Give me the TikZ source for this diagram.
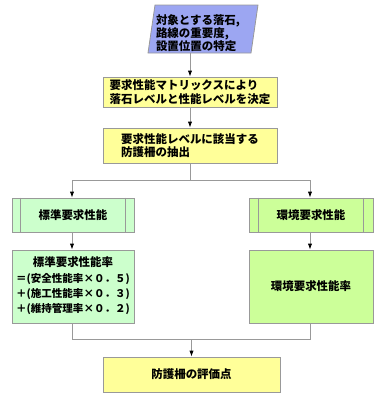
\documentclass[tikz,border=0pt]{standalone}
\usepackage{fontspec}
\setmainfont{Noto Sans CJK JP}
\usetikzlibrary{arrows.meta}
\definecolor{paraBlue}{HTML}{9CA6F2}
\definecolor{boxYellow}{HTML}{FFFF99}
\definecolor{boxMint}{HTML}{CCFFCC}
\definecolor{boxLime}{HTML}{CCFF99}
\definecolor{lineGray}{HTML}{999999}
\begin{document}
\begin{tikzpicture}[x=0.75pt,y=-0.75pt,
  every node/.style={font=\fontsize{8.6pt}{10pt}\selectfont\bfseries},
  box/.style={draw=lineGray, line width=0.6pt, inner sep=0pt},
  conn/.style={draw=lineGray, line width=0.6pt},
  arr/.style={conn, -{Latex[color=black,length=4.5pt,width=3.2pt]}}]
\useasboundingbox (0,0) rectangle (378,397);
% parallelogram
\filldraw[fill=paraBlue, draw=lineGray, line width=0.6pt] (155,5) -- (258,5) -- (251,53) -- (148,53) -- cycle;
\node[align=left] (p) at (198,33) {対象とする落石,\\路線の重要度,\\設置位置の特定};
\coordinate (pb) at (190,53);
% yellow boxes
\node[box, fill=boxYellow, minimum width=130.5pt, minimum height=22.5pt, align=left] (b2) at (190,92)
  {要求性能マトリックスにより\\落石レベルと性能レベルを決定};
\node[box, fill=boxYellow, minimum width=130.5pt, minimum height=26.25pt, align=left] (b3) at (190,145.5)
  {要求性能レベルに該当する\\防護柵の抽出};
% predefined process boxes
\node[box, fill=boxMint, minimum width=91.5pt, minimum height=25.5pt] (l1) at (73,215) {標準要求性能};
\node[box, fill=boxLime, minimum width=93pt, minimum height=25.5pt] (r1) at (311,215) {環境要求性能};
\draw[conn] ([xshift=6.75pt]l1.north west) -- ([xshift=6.75pt]l1.south west);
\draw[conn] ([xshift=-6.75pt]l1.north east) -- ([xshift=-6.75pt]l1.south east);
\draw[conn] ([xshift=7.5pt]r1.north west) -- ([xshift=7.5pt]r1.south west);
\draw[conn] ([xshift=-7.5pt]r1.north east) -- ([xshift=-7.5pt]r1.south east);
% rate boxes
\node[box, fill=boxMint, minimum width=91.5pt, minimum height=54.75pt,
  font=\fontsize{7.9pt}{11.3pt}\selectfont\bfseries] (l2) at (73,286.5)
  {\begin{tabular}{@{}l@{}}\multicolumn{1}{@{}c@{}}{\fontsize{8.6pt}{10pt}\selectfont 標準要求性能率}\\[1pt]
  ＝(安全性能率×０．５)\\＋(施工性能率×０．３)\\＋(維持管理率×０．２)\end{tabular}};
\node[box, fill=boxLime, minimum width=93pt, minimum height=54.75pt] (r2) at (311,286.5) {環境要求性能率};
% bottom
\node[box, fill=boxYellow, minimum width=132.75pt, minimum height=26.25pt] (b4) at (191.5,374.5) {防護柵の評価点};
% connectors
\coordinate (j1) at (190,180);
\coordinate (j1l) at (72,180);
\coordinate (j1r) at (310,180);
\coordinate (j2) at (191.5,339);
\coordinate (j2l) at (72,339);
\coordinate (j2r) at (310,339);
\draw[arr] (pb) -- (b2.north);
\draw[arr] (b2.south) -- (b3.north);
\draw[conn] (b3.south) -- (j1);
\draw[conn] (j1l) -- (j1r);
\draw[arr] (j1l) -- (j1l |- l1.north);
\draw[arr] (j1r) -- (j1r |- r1.north);
\draw[arr] (j1l |- l1.south) -- (j1l |- l2.north);
\draw[arr] (j1r |- r1.south) -- (j1r |- r2.north);
\draw[conn] (j1l |- l2.south) -- (j2l) -- (j2r) -- (j1r |- r2.south);
\draw[arr] (j2) -- (b4.north);
\end{tikzpicture}
\end{document}
